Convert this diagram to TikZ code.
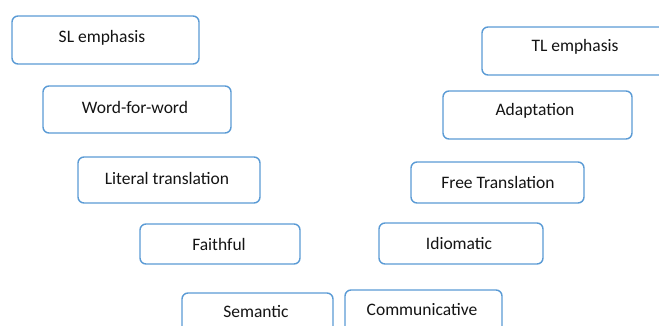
\documentclass[tikz,border=0pt]{standalone}
\usepackage{fontspec}
\setmainfont{Carlito}
\definecolor{boxblue}{RGB}{91,155,213}
\definecolor{txt}{RGB}{20,20,20}
\begin{document}
\begin{tikzpicture}[x=1pt,y=1pt,
  tfont/.style={text=txt, font=\fontsize{17.5}{19}\selectfont},
  tbox/.style={draw=boxblue, line width=1.4pt, rounded corners=6pt, fill=white,
    inner sep=0pt, tfont}]
\useasboundingbox (0,0) rectangle (659,325);
\clip (0,0) rectangle (659,325);
% left column
\node[tbox, minimum width=187pt, minimum height=48pt] (sl) at (105.5,285) {};
\node[tfont] (slt) at (102,287) {SL emphasis};
\node[tbox, minimum width=188pt, minimum height=47pt] (wfw) at (137,215.5) {};
\node[tfont] (wfwt) at (135,218) {Word-for-word};
\node[tbox, minimum width=182pt, minimum height=46pt] (lit) at (169,145) {};
\node[tfont] (litt) at (167,147) {Literal translation};
\node[tbox, minimum width=160pt, minimum height=40pt] (fai) at (220,81) {};
\node[tfont] (fait) at (219,81) {Faithful};
\node[tbox, minimum width=151pt, minimum height=47pt] (sem) at (257.5,8.5) {};
\node[tfont] (semt) at (256,13) {Semantic};
% right column
\node[tbox, minimum width=188pt, minimum height=48pt] (tl) at (576,274) {};
\node[tfont] (tlt) at (575,278) {TL emphasis};
\node[tbox, minimum width=189pt, minimum height=48pt] (ada) at (537.5,210) {};
\node[tfont] (adat) at (535,214) {Adaptation};
\node[tbox, minimum width=173pt, minimum height=41pt] (fre) at (497.5,142.5) {};
\node[tfont] (fret) at (498,143) {Free Translation};
\node[tbox, minimum width=164pt, minimum height=41pt] (idi) at (461,81.5) {};
\node[tfont] (idit) at (459,82) {Idiomatic};
\node[tbox, minimum width=157pt, minimum height=47pt] (com) at (423.5,11.5) {};
\node[tfont] (comt) at (422,15) {Communicative};
\end{tikzpicture}
\end{document}
